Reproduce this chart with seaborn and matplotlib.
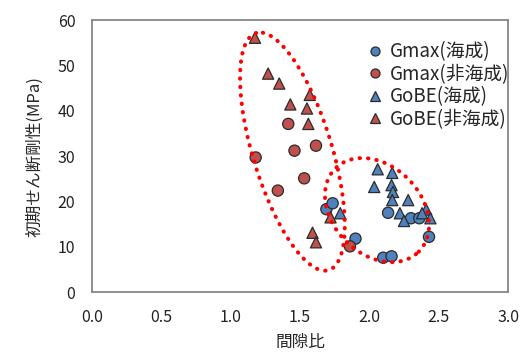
import numpy as np
import pandas as pd
import matplotlib
matplotlib.use('Agg')
import matplotlib.pyplot as plt
import seaborn as sns

# 読み取った値 (間隙比 e, 初期せん断剛性 G [MPa])
gmax_marine_e = [1.69, 1.735, 2.135, 2.30, 2.36, 2.43, 2.10, 2.16, 1.90]
gmax_marine_g = [18.3, 19.6, 17.5, 16.3, 16.3, 12.2, 7.6, 7.9, 11.8]
gmax_nonmarine_e = [1.415, 1.18, 1.46, 1.615, 1.53, 1.34, 1.86]
gmax_nonmarine_g = [37.1, 29.7, 31.2, 32.3, 25.1, 22.4, 10.1]
g0be_marine_e = [1.79, 2.06, 2.165, 2.035, 2.16, 2.17, 2.165, 2.28, 2.22, 2.25, 2.41, 2.44, 2.38]
g0be_marine_g = [17.4, 27.1, 26.3, 23.2, 23.6, 22.1, 20.3, 20.3, 17.4, 15.7, 18.2, 16.3, 17.4]
g0be_nonmarine_e = [1.175, 1.27, 1.35, 1.57, 1.43, 1.55, 1.56, 1.72, 1.59, 1.615]
g0be_nonmarine_g = [56.1, 48.2, 46.0, 43.5, 41.4, 40.5, 37.1, 16.5, 13.1, 11.0]

labels = ['Gmax(海成)', 'Gmax(非海成)', 'GoBE(海成)', 'GoBE(非海成)']

# 囲み線 (中心 e, 中心 G, 長半径, 短半径 [e単位], 角度)
ellipses = [(1.445, 31.0, 0.894, 0.285, 107), (2.055, 18.1, 0.425, 0.318, -45)]

frames = []
for lab, e, g in zip(labels,
                     [gmax_marine_e, gmax_nonmarine_e, g0be_marine_e, g0be_nonmarine_e],
                     [gmax_marine_g, gmax_nonmarine_g, g0be_marine_g, g0be_nonmarine_g]):
    frames.append(pd.DataFrame({'間隙比': e, 'G': g, '種別': lab}))
df = pd.concat(frames, ignore_index=True)

sns.set_style('white')
plt.rcParams['font.family'] = ['Noto Sans CJK JP', 'DejaVu Sans']

fig = plt.figure(figsize=(5.2, 3.52), dpi=100)
ax = fig.add_axes([0.177, 0.170, 0.800, 0.773])

blue = '#4F81BD'
red = '#C0504D'
palette = {labels[0]: blue, labels[1]: red, labels[2]: blue, labels[3]: red}
markers = {labels[0]: 'o', labels[1]: 'o', labels[2]: '^', labels[3]: '^'}

sns.scatterplot(data=df, x='間隙比', y='G', hue='種別', style='種別',
                palette=palette, markers=markers, s=65,
                edgecolor='#2b2b2b', linewidth=0.9, ax=ax, zorder=3)

# 点線の囲み
k = (0.800 * 520 / 3.0) / (0.773 * 352 / 60.0)  # e単位あたりの G
t = np.linspace(0, 2 * np.pi, 300)
for cx, cy, a, b, ang in ellipses:
    th = np.deg2rad(ang)
    ex = cx + a * np.cos(t) * np.cos(th) - b * np.sin(t) * np.sin(th)
    ey = cy + (a * np.cos(t) * np.sin(th) + b * np.sin(t) * np.cos(th)) * k
    ax.plot(ex, ey, color='#FF0000', lw=2.9, linestyle=(0, (0.1, 2.0)),
            dash_capstyle='round', zorder=4)

ax.set_xlim(0, 3.0)
ax.set_ylim(0, 60)
ax.set_xticks(np.arange(0, 3.01, 0.5))
ax.set_xticklabels([f'{v:.1f}' for v in np.arange(0, 3.01, 0.5)])
ax.set_yticks(range(0, 61, 10))
ax.tick_params(length=0, labelsize=11.5, labelcolor='#222222')
ax.tick_params(axis='x', pad=12)
ax.tick_params(axis='y', pad=12)
for sp in ax.spines.values():
    sp.set_color('#868686')
    sp.set_linewidth(1.3)

ax.set_xlabel('間隙比', fontsize=12, labelpad=6)
ax.set_ylabel('初期せん断剛性(MPa)', fontsize=12, labelpad=10)

handles, labs = ax.get_legend_handles_labels()
for h in handles:
    h.set_markersize(6.5)
ax.legend(handles, labs, loc='upper right', frameon=False, fontsize=13.5,
          handletextpad=0.0, handlelength=1.6, labelspacing=0.08,
          borderaxespad=0.3, bbox_to_anchor=(1.035, 0.97))

fig.savefig('out.png', dpi=100)
